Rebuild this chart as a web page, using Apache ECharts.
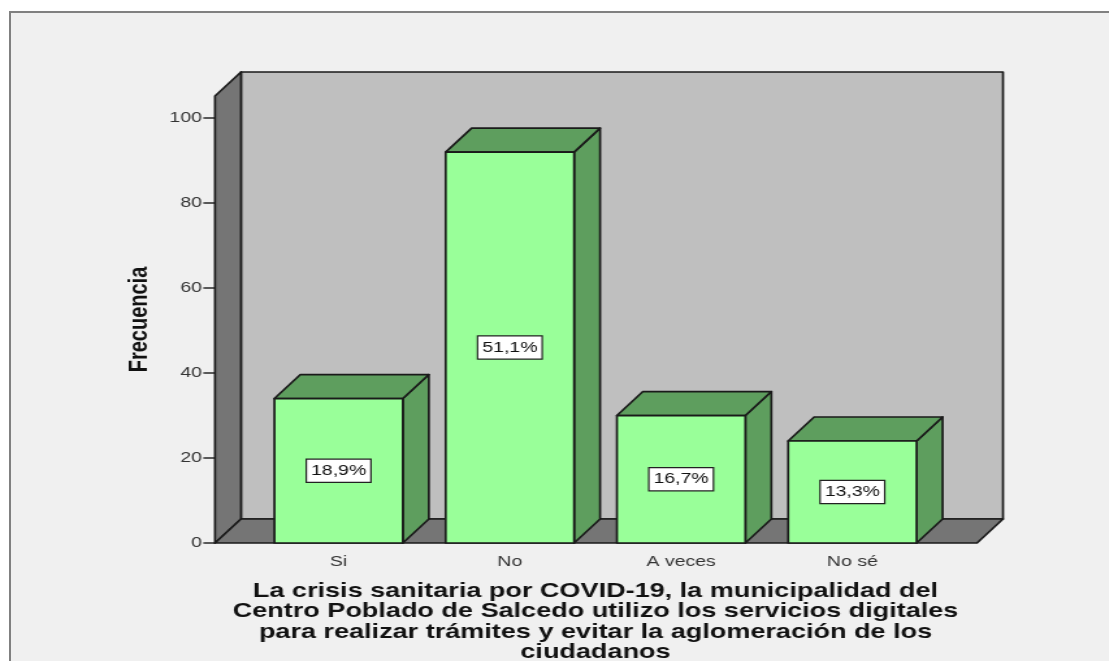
<!DOCTYPE html>
<html>
<head>
<meta charset="utf-8">
<script src="https://cdn.jsdelivr.net/npm/echarts@6/dist/echarts.min.js"></script>
<style>
html,body{margin:0;padding:0;background:#fff;width:1109px;height:661px;overflow:hidden}
#frame{position:absolute;left:9px;top:11px;right:0;bottom:0;background:#f0f0f0;border-left:2px solid #808080;border-top:2px solid #808080}
#chart{position:absolute;left:0;top:0;width:853px;height:661px;transform-origin:0 0;transform:scaleX(1.3)}
</style>
</head>
<body>
<div id="frame"></div>
<div id="chart"></div>
<script>
const categories = ['Si', 'No', 'A veces', 'No sé'];
const frecuencia = [34, 92, 30, 24];
const porcentajes = ['18,9%', '51,1%', '16,7%', '13,3%'];
const yTicks = [0, 20, 40, 60, 80, 100];
const xTitle = 'La crisis sanitaria por COVID-19, la municipalidad del\nCentro Poblado de Salcedo utilizo los servicios digitales\npara realizar trámites y evitar la aglomeración de los\nciudadanos';
const yTitle = 'Frecuencia';

const S = 1.3;            // horizontal stretch of the whole picture
const DX = 26 / S, DY = 24;
const WALL_PAD_L = 38 / S, WALL_PAD_R = 39 / S;
const LINE = '#1a1a1a', LW = 1.7;
const FONT = '"Liberation Sans", Arial, sans-serif';

function poly(points, fill) {
  return { type: 'polygon', shape: { points }, style: { fill, stroke: LINE, lineWidth: LW, lineJoin: 'round' } };
}

function renderWalls(params) {
  const c = params.coordSys;
  const x0 = c.x - WALL_PAD_L, x1 = c.x + c.width + WALL_PAD_R;
  const yB = c.y + c.height, yT = c.y;
  return { type: 'group', children: [
    poly([[x0 + DX, yT - DY], [x1 + DX, yT - DY], [x1 + DX, yB - DY], [x0 + DX, yB - DY]], '#bfbfbf'),
    poly([[x0, yB], [x0, yT], [x0 + DX, yT - DY], [x0 + DX, yB - DY]], '#757575'),
    poly([[x0, yB], [x0 + DX, yB - DY], [x1 + DX, yB - DY], [x1, yB]], '#757575')
  ] };
}

function renderBar(params, api) {
  const i = api.value(0), v = api.value(1);
  const top = api.coord([i, v]), base = api.coord([i, 0]);
  const w = api.size([1, 0])[0] * 0.75;
  const l = top[0] - w / 2, r = top[0] + w / 2, t = top[1], b = base[1];
  return { type: 'group', children: [
    poly([[r, t], [r + DX, t - DY], [r + DX, b - DY], [r, b]], '#5e9e5e'),
    poly([[l, t], [l + DX, t - DY], [r + DX, t - DY], [r, t]], '#5e9e5e'),
    poly([[l, t], [r, t], [r, b], [l, b]], '#99ff99'),
    { type: 'text', z2: 10, style: {
        text: porcentajes[params.dataIndex], x: top[0], y: (t + b) / 2,
        align: 'center', verticalAlign: 'middle',
        font: '15px ' + FONT, fill: '#111',
        backgroundColor: '#fff', borderColor: '#222', borderWidth: 1.2, padding: [4, 3, 3, 3]
    } }
  ] };
}

const chart = echarts.init(document.getElementById('chart'), null, { renderer: 'canvas' });
chart.setOption({
  backgroundColor: 'transparent',
  animation: false,
  grid: { left: 253 / S, width: 685 / S, top: 96, height: 447, outerBoundsMode: 'none' },
  xAxis: {
    type: 'category', data: categories,
    axisLine: { show: false },
    axisTick: { alignWithLabel: true, length: 8, lineStyle: { color: '#333', width: 1.6 } },
    axisLabel: { color: '#333', fontFamily: FONT, fontSize: 15, margin: 11 },
    name: xTitle, nameLocation: 'middle', nameGap: 38,
    nameTextStyle: { color: '#111', fontFamily: FONT, fontSize: 20.8, fontWeight: 'bold', lineHeight: 20.5, align: 'center', verticalAlign: 'top' }
  },
  yAxis: {
    type: 'value', min: 0, max: 105.2, offset: WALL_PAD_L,
    splitLine: { show: false },
    axisLine: { show: false },
    axisTick: { show: true, length: 9, customValues: yTicks, lineStyle: { color: '#333', width: 1.6 } },
    axisLabel: { color: '#333', fontFamily: FONT, fontSize: 15, margin: 10, customValues: yTicks },
    name: yTitle, nameLocation: 'middle', nameGap: 48, nameRotate: 90,
    nameTextStyle: { color: '#111', fontFamily: FONT, fontSize: 20, fontWeight: 'bold' }
  },
  series: [
    { type: 'custom', coordinateSystem: 'cartesian2d', data: [[0, 0]], renderItem: renderWalls, silent: true, z: 1 },
    { type: 'custom', coordinateSystem: 'cartesian2d', name: yTitle,
      data: categories.map((c, i) => [i, frecuencia[i]]),
      encode: { x: 0, y: 1 }, renderItem: renderBar, clip: false, z: 2 }
  ]
});
</script>
</body>
</html>
